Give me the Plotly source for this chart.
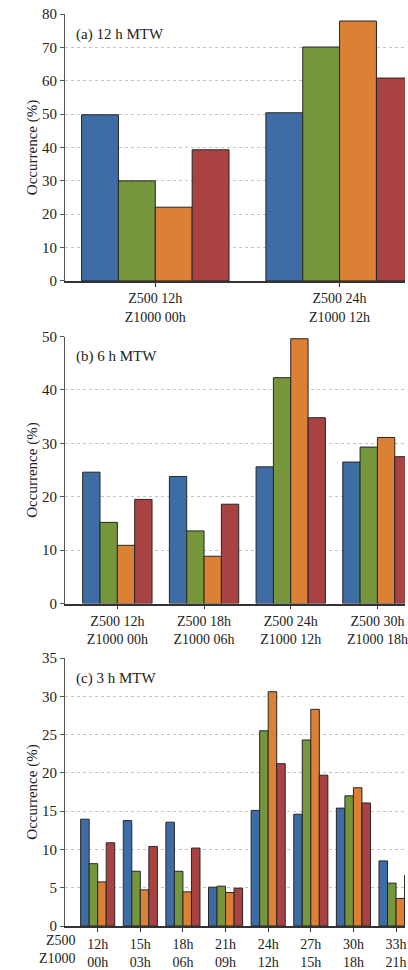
import plotly.graph_objects as go
from plotly.subplots import make_subplots

# ---- data ----
series_names = ["S1", "S2", "S3", "S4"]
colors = ["#3E6CA5", "#76963C", "#DC8035", "#A94343"]

cats_a = ["Z500 12h<br>Z1000 00h", "Z500 24h<br>Z1000 12h"]
vals_a = [
    [49.8, 50.4],   # blue
    [30.0, 70.1],   # green
    [22.1, 77.9],   # orange
    [39.3, 60.8],   # red
]

cats_b = ["Z500 12h<br>Z1000 00h", "Z500 18h<br>Z1000 06h",
          "Z500 24h<br>Z1000 12h", "Z500 30h<br>Z1000 18h"]
vals_b = [
    [24.6, 23.8, 25.6, 26.5],
    [15.2, 13.6, 42.3, 29.3],
    [10.9, 8.85, 49.6, 31.1],
    [19.5, 18.6, 34.8, 27.5],
]

cats_c = ["12h<br>00h", "15h<br>03h", "18h<br>06h", "21h<br>09h",
          "24h<br>12h", "27h<br>15h", "30h<br>18h", "33h<br>21h"]
vals_c = [
    [13.95, 13.77, 13.56, 5.07, 15.1, 14.6, 15.4, 8.5],
    [8.14, 7.15, 7.15, 5.2, 25.5, 24.3, 17.0, 5.6],
    [5.76, 4.72, 4.46, 4.37, 30.6, 28.3, 18.06, 3.6],
    [10.87, 10.39, 10.18, 4.94, 21.2, 19.7, 16.07, 6.6],
]

panel_labels = ["(a) 12 h MTW", "(b) 6 h MTW", "(c) 3 h MTW"]

FONT = "Liberation Serif"
TXT = "#222222"

fig = make_subplots(rows=3, cols=1)

panels = [(cats_a, vals_a), (cats_b, vals_b), (cats_c, vals_c)]
for r, (cats, vals) in enumerate(panels, start=1):
    for i, v in enumerate(vals):
        fig.add_trace(go.Bar(
            x=cats, y=v, name=series_names[i],
            marker=dict(color=colors[i], line=dict(color="#262626", width=1)),
            showlegend=False,
        ), row=r, col=1)

# layout geometry
fig.update_layout(
    width=408, height=970,
    margin=dict(l=65, r=0, t=14, b=37),
    plot_bgcolor="white", paper_bgcolor="white",
    barmode="group", bargap=0.2, bargroupgap=0.0,
    font=dict(family=FONT, size=15, color=TXT),
)

domains = [[0.7073, 1.0], [0.3536, 0.6463], [0.0, 0.2938]]
xranges = [[-0.49, 1.355], [-0.604, 3.318], [-0.767, 7.21]]
yranges = [[0, 80], [0, 50], [0, 35]]
dticks = [10, 10, 5]

for r in range(3):
    xa = "xaxis" if r == 0 else f"xaxis{r+1}"
    ya = "yaxis" if r == 0 else f"yaxis{r+1}"
    fig.layout[xa].update(
        domain=[0, 1], range=xranges[r], type="category",
        showline=True, linecolor="#333333", linewidth=1.5,
        ticks="outside", ticklen=4, tickcolor="#333333",
        showgrid=False, zeroline=False,
        tickfont=dict(family=FONT, size=14, color=TXT),
    )
    fig.layout[ya].update(
        domain=domains[r], range=yranges[r], dtick=dticks[r],
        showline=True, linecolor="#555555", linewidth=1.2,
        ticks="outside", ticklen=4, tickcolor="#555555",
        showgrid=True, gridcolor="#c4c4c4", griddash="dot", gridwidth=1,
        zeroline=False,
        tickfont=dict(family=FONT, size=15, color=TXT),
        title=dict(text="Occurrence (%)", font=dict(family=FONT, size=15, color=TXT), standoff=0),
    )
    xref = "x domain" if r == 0 else f"x{r+1} domain"
    yref = "y domain" if r == 0 else f"y{r+1} domain"
    fig.add_annotation(
        text=panel_labels[r], xref=xref, yref=yref, x=0, y=1,
        xanchor="left", yanchor="middle", xshift=9, yshift=-20,
        showarrow=False, font=dict(family=FONT, size=15, color=TXT),
    )

# row labels for panel (c)
fig.add_annotation(
    text="Z500<br>Z1000", xref="x3 domain", yref="y3 domain", x=0, y=0,
    xanchor="right", yanchor="top", align="right", xshift=13, yshift=-5,
    showarrow=False, font=dict(family=FONT, size=14, color=TXT),
)

fig.write_html("out.html")
